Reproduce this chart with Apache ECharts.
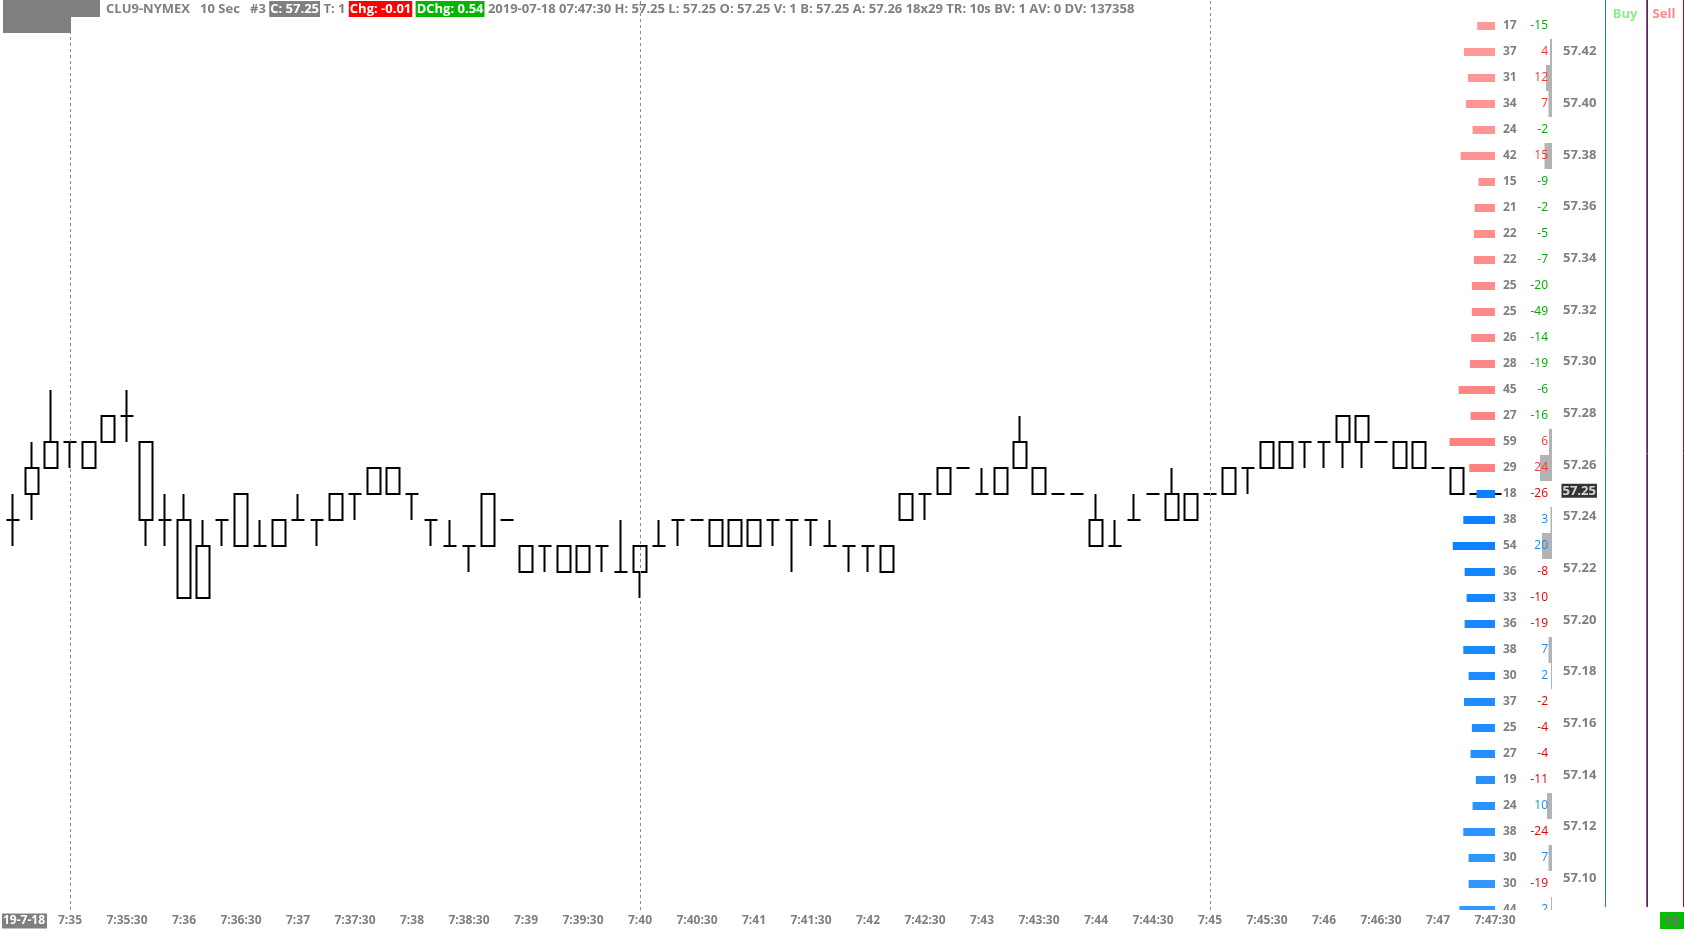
<!DOCTYPE html>
<html><head><meta charset="utf-8">
<script src="https://cdn.jsdelivr.net/npm/echarts@6/dist/echarts.min.js"></script>
<style>html,body{margin:0;padding:0;background:#fff;}#c{width:1684px;height:930px;}</style>
</head><body><div id="c"></div>
<script>
// ---- data ----
const times = [
 '7:34:30','7:34:40','7:34:50',
 '7:35:00','7:35:10','7:35:20','7:35:30','7:35:40','7:35:50',
 '7:36:00','7:36:10','7:36:20','7:36:30','7:36:40','7:36:50',
 '7:37:00','7:37:10','7:37:20','7:37:30','7:37:40','7:37:50',
 '7:38:00','7:38:10','7:38:20','7:38:30','7:38:40','7:38:50',
 '7:39:00','7:39:10','7:39:20','7:39:30','7:39:40','7:39:50',
 '7:40:00','7:40:10','7:40:20','7:40:30','7:40:40','7:40:50',
 '7:41:00','7:41:10','7:41:20','7:41:30','7:41:40','7:41:50',
 '7:42:00','7:42:10','7:42:20','7:42:30','7:42:40','7:42:50',
 '7:43:00','7:43:10','7:43:20','7:43:30','7:43:40','7:43:50',
 '7:44:00','7:44:10','7:44:20','7:44:30','7:44:40','7:44:50',
 '7:45:00','7:45:10','7:45:20','7:45:30','7:45:40','7:45:50',
 '7:46:00','7:46:10','7:46:20','7:46:30','7:46:40','7:46:50',
 '7:47:00','7:47:10','7:47:20','7:47:30'
];
// [open, close, low, high]
const candles = [
 [57.24,57.24,57.23,57.25],[57.25,57.26,57.24,57.27],[57.26,57.27,57.26,57.29],
 [57.27,57.27,57.26,57.27],[57.27,57.26,57.26,57.27],[57.27,57.28,57.27,57.28],
 [57.28,57.28,57.27,57.29],[57.27,57.24,57.23,57.27],[57.24,57.24,57.23,57.25],
 [57.24,57.21,57.21,57.25],[57.21,57.23,57.21,57.24],[57.24,57.24,57.23,57.24],
 [57.23,57.25,57.23,57.25],[57.23,57.23,57.23,57.24],[57.24,57.23,57.23,57.24],
 [57.24,57.24,57.24,57.25],[57.24,57.24,57.23,57.24],[57.24,57.25,57.24,57.25],
 [57.25,57.25,57.24,57.25],[57.25,57.26,57.25,57.26],[57.26,57.25,57.25,57.26],
 [57.25,57.25,57.24,57.25],[57.24,57.24,57.23,57.24],[57.23,57.23,57.23,57.24],
 [57.23,57.23,57.22,57.23],[57.23,57.25,57.23,57.25],[57.24,57.24,57.24,57.24],
 [57.23,57.22,57.22,57.23],[57.23,57.23,57.22,57.23],[57.22,57.23,57.22,57.23],
 [57.23,57.22,57.22,57.23],[57.23,57.23,57.22,57.23],[57.22,57.22,57.22,57.24],
 [57.22,57.23,57.21,57.23],[57.23,57.23,57.23,57.24],[57.24,57.24,57.23,57.24],
 [57.24,57.24,57.24,57.24],[57.24,57.23,57.23,57.24],[57.23,57.24,57.23,57.24],
 [57.24,57.23,57.23,57.24],[57.24,57.24,57.23,57.24],[57.24,57.24,57.22,57.24],
 [57.24,57.24,57.23,57.24],[57.23,57.23,57.23,57.24],[57.23,57.23,57.22,57.23],
 [57.23,57.23,57.22,57.23],[57.23,57.22,57.22,57.23],[57.24,57.25,57.24,57.25],
 [57.25,57.25,57.24,57.25],[57.25,57.26,57.25,57.26],[57.26,57.26,57.26,57.26],
 [57.25,57.25,57.25,57.26],[57.25,57.26,57.25,57.26],[57.26,57.27,57.26,57.28],
 [57.26,57.25,57.25,57.26],[57.25,57.25,57.25,57.25],[57.25,57.25,57.25,57.25],
 [57.24,57.23,57.23,57.25],[57.23,57.23,57.23,57.24],[57.24,57.24,57.24,57.25],
 [57.25,57.25,57.25,57.25],[57.24,57.25,57.24,57.26],[57.25,57.24,57.24,57.25],
 [57.25,57.25,57.25,57.25],[57.25,57.26,57.25,57.26],[57.26,57.26,57.25,57.26],
 [57.26,57.27,57.26,57.27],[57.27,57.26,57.26,57.27],[57.27,57.27,57.26,57.27],
 [57.27,57.27,57.26,57.27],[57.27,57.28,57.26,57.28],[57.28,57.27,57.26,57.28],
 [57.27,57.27,57.27,57.27],[57.27,57.26,57.26,57.27],[57.26,57.27,57.26,57.27],
 [57.26,57.26,57.26,57.26],[57.26,57.25,57.25,57.26],[57.25,57.25,57.25,57.25],
 [57.25,57.25,57.25,57.25]
];
const dashTimes = ['7:35:00','7:40:00','7:45:00'];

const askPrices = [57.43,57.42,57.41,57.40,57.39,57.38,57.37,57.36,57.35,57.34,57.33,57.32,57.31,57.30,57.29,57.28,57.27,57.26];
const askSizes  = [17,37,31,34,24,42,15,21,22,22,25,25,26,28,45,27,59,29];
const askDeltas = [-15,4,12,7,-2,15,-9,-2,-5,-7,-20,-49,-14,-19,-6,-16,6,24];
const bidPrices = [57.25,57.24,57.23,57.22,57.21,57.20,57.19,57.18,57.17,57.16,57.15,57.14,57.13,57.12,57.11,57.10,57.09];
const bidSizes  = [18,38,54,36,33,36,38,30,37,25,27,19,24,38,30,30,44];
const bidDeltas = [-26,3,20,-8,-10,-19,7,2,-2,-4,-4,-11,10,-24,7,-19,2];
const lastPrice = 57.25;

const headerSymbol = 'CLU9-NYMEX   10 Sec   #3';
const headerClose = 'C: 57.25';
const headerTicks = 'T: 1';
const headerChg = 'Chg: -0.01';
const headerDChg = 'DChg: 0.54';
const headerRest = '2019-07-18 07:47:30 H: 57.25 L: 57.25 O: 57.25 V: 1 B: 57.25 A: 57.26 18x29 TR: 10s BV: 1 AV: 0 DV: 137358';
const dateLabel = '19-7-18';
const bottomBadge = '18';

// ---- chart ----
const FONT = '"Open Sans", "Noto Sans", sans-serif';
const GRAY = '#7f7f7f';
const DOM_MIN = -10, DOM_MAX = 290;
const DELTA_MAX = 104;
const PMIN = 57.09, PMAX = 57.44;

function lerpColor(a, b, t) {
  const pa = [1,3,5].map(i => parseInt(a.substr(i,2),16));
  const pb = [1,3,5].map(i => parseInt(b.substr(i,2),16));
  return 'rgb(' + pa.map((v,i) => Math.round(v + (pb[i]-v)*t)).join(',') + ')';
}

const domBarData = askPrices.map((p,i) => [askSizes[i], p, 0, askPrices.length-1-i])
  .concat(bidPrices.map((p,i) => [bidSizes[i], p, 1, i]));
const domTextData = askPrices.map((p,i) => [askDeltas[i], p, askSizes[i], 0])
  .concat(bidPrices.map((p,i) => [bidDeltas[i], p, bidSizes[i], 1]));

const chart = echarts.init(document.getElementById('c'), null, {renderer: 'canvas'});

const HF = 13;
const option = {
  animation: false,
  backgroundColor: '#fff',
  grid: [
    {left: 3.5, top: 0, width: 1501, height: 910},
    {left: 1297, top: 0, width: 198, height: 910},
    {left: 1500, top: 0, width: 52, height: 910},
    {left: 1500, top: 0, width: 59, height: 936}
  ],
  xAxis: [
    {gridIndex: 0, type: 'category', data: times, boundaryGap: true,
     axisLine: {show: false}, axisTick: {show: false}, splitLine: {show: false},
     axisLabel: {
       margin: 5, color: GRAY, fontWeight: 'bold', fontSize: 12, fontFamily: FONT,
       interval: (i, v) => i > 0 && (v.endsWith(':00') || v.endsWith(':30')),
       formatter: v => v.endsWith(':00') ? v.slice(0, -3) : v
     }},
    {gridIndex: 1, type: 'value', inverse: true, min: DOM_MIN, max: DOM_MAX, show: false},
    {gridIndex: 2, type: 'value', inverse: true, min: 0, max: DELTA_MAX, show: false},
    {gridIndex: 3, type: 'value', min: 0, max: 1, show: false}
  ],
  yAxis: [
    {gridIndex: 0, type: 'value', min: PMIN, max: PMAX, show: false, splitLine: {show: false}},
    {gridIndex: 1, type: 'value', min: PMIN, max: PMAX, show: false, splitLine: {show: false}},
    {gridIndex: 2, type: 'value', min: PMIN, max: PMAX, show: false, splitLine: {show: false}},
    {gridIndex: 3, type: 'value', min: 57.08, max: 57.44, interval: 0.02, position: 'right',
     axisLine: {show: false}, axisTick: {show: false}, splitLine: {show: false},
     axisLabel: {margin: 4, showMinLabel: false, showMaxLabel: false, color: GRAY,
       fontWeight: 'bold', fontSize: 13, fontFamily: FONT, formatter: v => v.toFixed(2)}}
  ],
  series: [
    {
      type: 'candlestick', xAxisIndex: 0, yAxisIndex: 0, data: candles, barWidth: 13, z: 2,
      itemStyle: {color: '#fff', color0: '#fff', borderColor: '#000', borderColor0: '#000',
                  borderColorDoji: '#000', borderWidth: 2},
      markLine: {
        silent: true, symbol: ['none', 'none'], label: {show: false},
        lineStyle: {color: '#8a8a8a', type: [3, 3], width: 1},
        data: dashTimes.map(t => ({xAxis: t}))
      }
    },
    {
      type: 'custom', xAxisIndex: 1, yAxisIndex: 1, data: domBarData, clip: true, z: 3,
      encode: {x: 0, y: 1},
      renderItem: (params, api) => {
        const size = api.value(0), price = api.value(1), side = api.value(2), dist = api.value(3);
        const base = api.coord([DOM_MIN, price]);
        const end = api.coord([size, price]);
        const fill = side === 0
          ? lerpColor('#ff8080', '#ff9a9a', dist / 17)
          : lerpColor('#0a80ff', '#3399ff', dist / 16);
        return {type: 'rect', shape: {x: end[0], y: end[1] - 4, width: base[0] - end[0], height: 8},
                style: {fill: fill}};
      }
    },
    {
      type: 'custom', xAxisIndex: 2, yAxisIndex: 2, data: domTextData, clip: true, z: 4,
      encode: {x: 0, y: 1},
      renderItem: (params, api) => {
        const delta = api.value(0), price = api.value(1), size = api.value(2), side = api.value(3);
        const zero = api.coord([0, price]);
        const left = api.coord([DELTA_MAX, price]);
        const children = [];
        if (delta > 0) {
          const e = api.coord([delta, price]);
          children.push({type: 'rect', shape: {x: e[0], y: zero[1] - 13, width: zero[0] - e[0], height: 26},
                         style: {fill: '#b3b3b3'}});
        }
        children.push({type: 'text', style: {text: String(size), x: left[0] + 3, y: zero[1],
          align: 'left', verticalAlign: 'middle', fontSize: 12, fontWeight: 'bold', fontFamily: FONT, fill: GRAY}});
        let col;
        if (side === 0) col = delta > 0 ? '#ff3333' : '#00a800';
        else col = delta > 0 ? '#1e88e5' : '#e00000';
        children.push({type: 'text', style: {text: String(delta), x: zero[0] - 4, y: zero[1],
          align: 'right', verticalAlign: 'middle', fontSize: 12, fontFamily: FONT, fill: col}});
        return {type: 'group', children: children};
      }
    },
    {
      type: 'scatter', xAxisIndex: 3, yAxisIndex: 3, data: [[1, lastPrice]], symbolSize: 1,
      itemStyle: {color: 'rgba(0,0,0,0)'}, silent: true, z: 5,
      label: {show: true, position: 'right', distance: 2, formatter: p => p.value[1].toFixed(2),
        backgroundColor: '#000', color: '#fff', fontWeight: 'bold', fontSize: 13, fontFamily: FONT,
        padding: [1, 1, 0, 1]}
    }
  ],
  graphic: [
    {type: 'rect', z: 100, shape: {x: 3, y: 0, width: 97, height: 17}, style: {fill: '#808080'}},
    {type: 'rect', z: 100, shape: {x: 3, y: 17, width: 68, height: 16}, style: {fill: '#808080'}},
    {type: 'text', z: 100, x: 106, y: 9, style: {
      text: '{n|' + headerSymbol + ' }{g|' + headerClose + '}{n| ' + headerTicks + ' }{r|' + headerChg +
            '}{n| }{gr|' + headerDChg + '}{n| ' + headerRest + '}',
      verticalAlign: 'middle',
      rich: {
        n: {fontSize: HF, fontWeight: 'bold', fontFamily: FONT, fill: GRAY, lineHeight: 18},
        g: {fontSize: HF, fontWeight: 'bold', fontFamily: FONT, fill: '#fff', backgroundColor: '#808080', padding: [2, 1, 1, 1]},
        r: {fontSize: HF, fontWeight: 'bold', fontFamily: FONT, fill: '#fff', backgroundColor: '#ff0000', padding: [2, 1, 1, 1]},
        gr: {fontSize: HF, fontWeight: 'bold', fontFamily: FONT, fill: '#fff', backgroundColor: '#00b800', padding: [2, 1, 1, 1]}
      }}},
    {type: 'text', z: 100, x: 2, y: 921, style: {text: dateLabel, verticalAlign: 'middle',
      fontSize: 12, fontWeight: 'bold', fontFamily: FONT, fill: '#fff', backgroundColor: '#808080', padding: [2, 2, 1, 1]}},
    {type: 'text', z: 100, x: 1625, y: 14, style: {text: 'Buy', align: 'center', verticalAlign: 'middle',
      fontSize: 13, fontWeight: 'bold', fontFamily: FONT, fill: '#8aee8a'}},
    {type: 'text', z: 100, x: 1664, y: 14, style: {text: 'Sell', align: 'center', verticalAlign: 'middle',
      fontSize: 13, fontWeight: 'bold', fontFamily: FONT, fill: '#ff8888'}},
    {type: 'line', z: 100, shape: {x1: 1605.5, y1: 0, x2: 1605.5, y2: 907}, style: {stroke: '#1e78e6', lineWidth: 1}},
    {type: 'line', z: 100, shape: {x1: 1646.5, y1: 0, x2: 1646.5, y2: 907}, style: {stroke: '#1e78e6', lineWidth: 1}},
    {type: 'line', z: 100, shape: {x1: 1647.5, y1: 0, x2: 1647.5, y2: 907}, style: {stroke: '#d00000', lineWidth: 1}},
    {type: 'line', z: 100, shape: {x1: 1683.5, y1: 0, x2: 1683.5, y2: 907}, style: {stroke: '#d00000', lineWidth: 1}},
    {type: 'rect', z: 100, shape: {x: 1660, y: 912, width: 24, height: 17}, style: {fill: '#00c000'}},
    {type: 'text', z: 101, x: 1672, y: 921, style: {text: bottomBadge, align: 'center', verticalAlign: 'middle',
      fontSize: 13, fontWeight: 'bold', fontFamily: FONT, fill: '#707070'}}
  ]
};
chart.setOption(option);
</script>
</body></html>
